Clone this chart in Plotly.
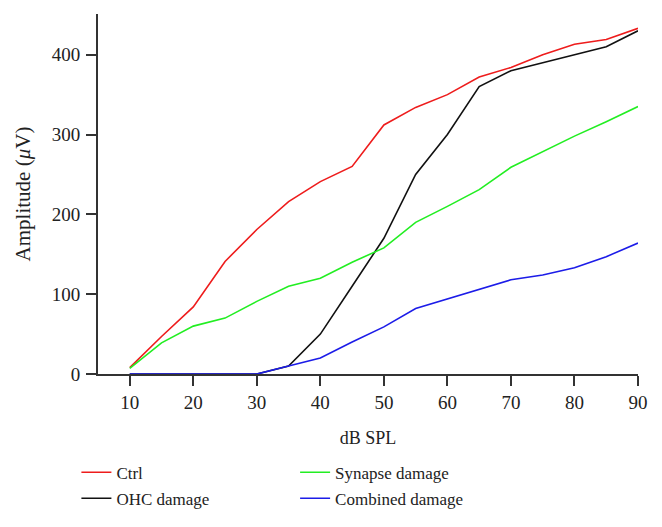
import plotly.graph_objects as go

db_spl = [10, 15, 20, 25, 30, 35, 40, 45, 50, 55, 60, 65, 70, 75, 80, 85, 90]
ctrl = [8, 47, 84, 141, 181, 216, 241, 260, 312, 334, 350, 372, 384, 400, 413, 419, 433]
ohc = [0, 0, 0, 0, 0, 10, 50, 110, 170, 250, 300, 360, 380, 390, 400, 410, 430]
synapse = [7, 39, 60, 70, 91, 110, 120, 140, 158, 190, 210, 231, 259, 279, 298, 316, 335]
combined = [0, 0, 0, 0, 0, 10, 20, 40, 59, 82, 94, 106, 118, 124, 133, 147, 164]

x_ticks = [10, 20, 30, 40, 50, 60, 70, 80, 90]
y_ticks = [0, 100, 200, 300, 400]

FONT = "Liberation Serif"
series = [
    ("Ctrl", ctrl, "#ee1c1c", "legend", "g1"),
    ("OHC damage", ohc, "#111111", "legend", "g2"),
    ("Synapse damage", synapse, "#22ee22", "legend2", "g3"),
    ("Combined damage", combined, "#1c1ce8", "legend2", "g4"),
]

fig = go.Figure()
for name, vals, color, leg, grp in series:
    fig.add_trace(go.Scatter(
        x=db_spl, y=vals, mode="lines", name=name,
        line=dict(color=color, width=1.6),
        legend=leg, legendgroup=grp,
    ))

axis_common = dict(
    showgrid=False, zeroline=False, showline=True, linecolor="#333333", linewidth=2,
    ticks="outside", ticklen=10, tickwidth=2, tickcolor="#333333",
    tickfont=dict(family=FONT, size=19, color="#222222"),
)

fig.update_layout(
    width=662, height=527,
    margin=dict(l=90, r=32, t=6, b=161),
    plot_bgcolor="white", paper_bgcolor="white",
    font=dict(family=FONT, size=17, color="#222222"),
    xaxis=dict(range=[5, 90], tickvals=x_ticks, ticktext=[str(v) for v in x_ticks],
               ticklabelstandoff=0,
               title=dict(text="dB SPL", font=dict(family=FONT, size=18), standoff=20),
               **axis_common),
    yaxis=dict(range=[0, 451], tickvals=y_ticks, ticktext=[str(v) for v in y_ticks],
               ticklabelstandoff=2,
               title=dict(text="Amplitude (<i>μ</i>V)", font=dict(family=FONT, size=21), standoff=15),
               **axis_common),
    legend=dict(x=-0.04, y=-0.224, xanchor="left", yanchor="top", orientation="v",
                tracegroupgap=1, font=dict(family=FONT, size=17), bgcolor="rgba(0,0,0,0)"),
    legend2=dict(x=0.365, y=-0.224, xanchor="left", yanchor="top", orientation="v",
                 tracegroupgap=1, font=dict(family=FONT, size=17), bgcolor="rgba(0,0,0,0)"),
    showlegend=True,
)

fig.write_html("out.html")
